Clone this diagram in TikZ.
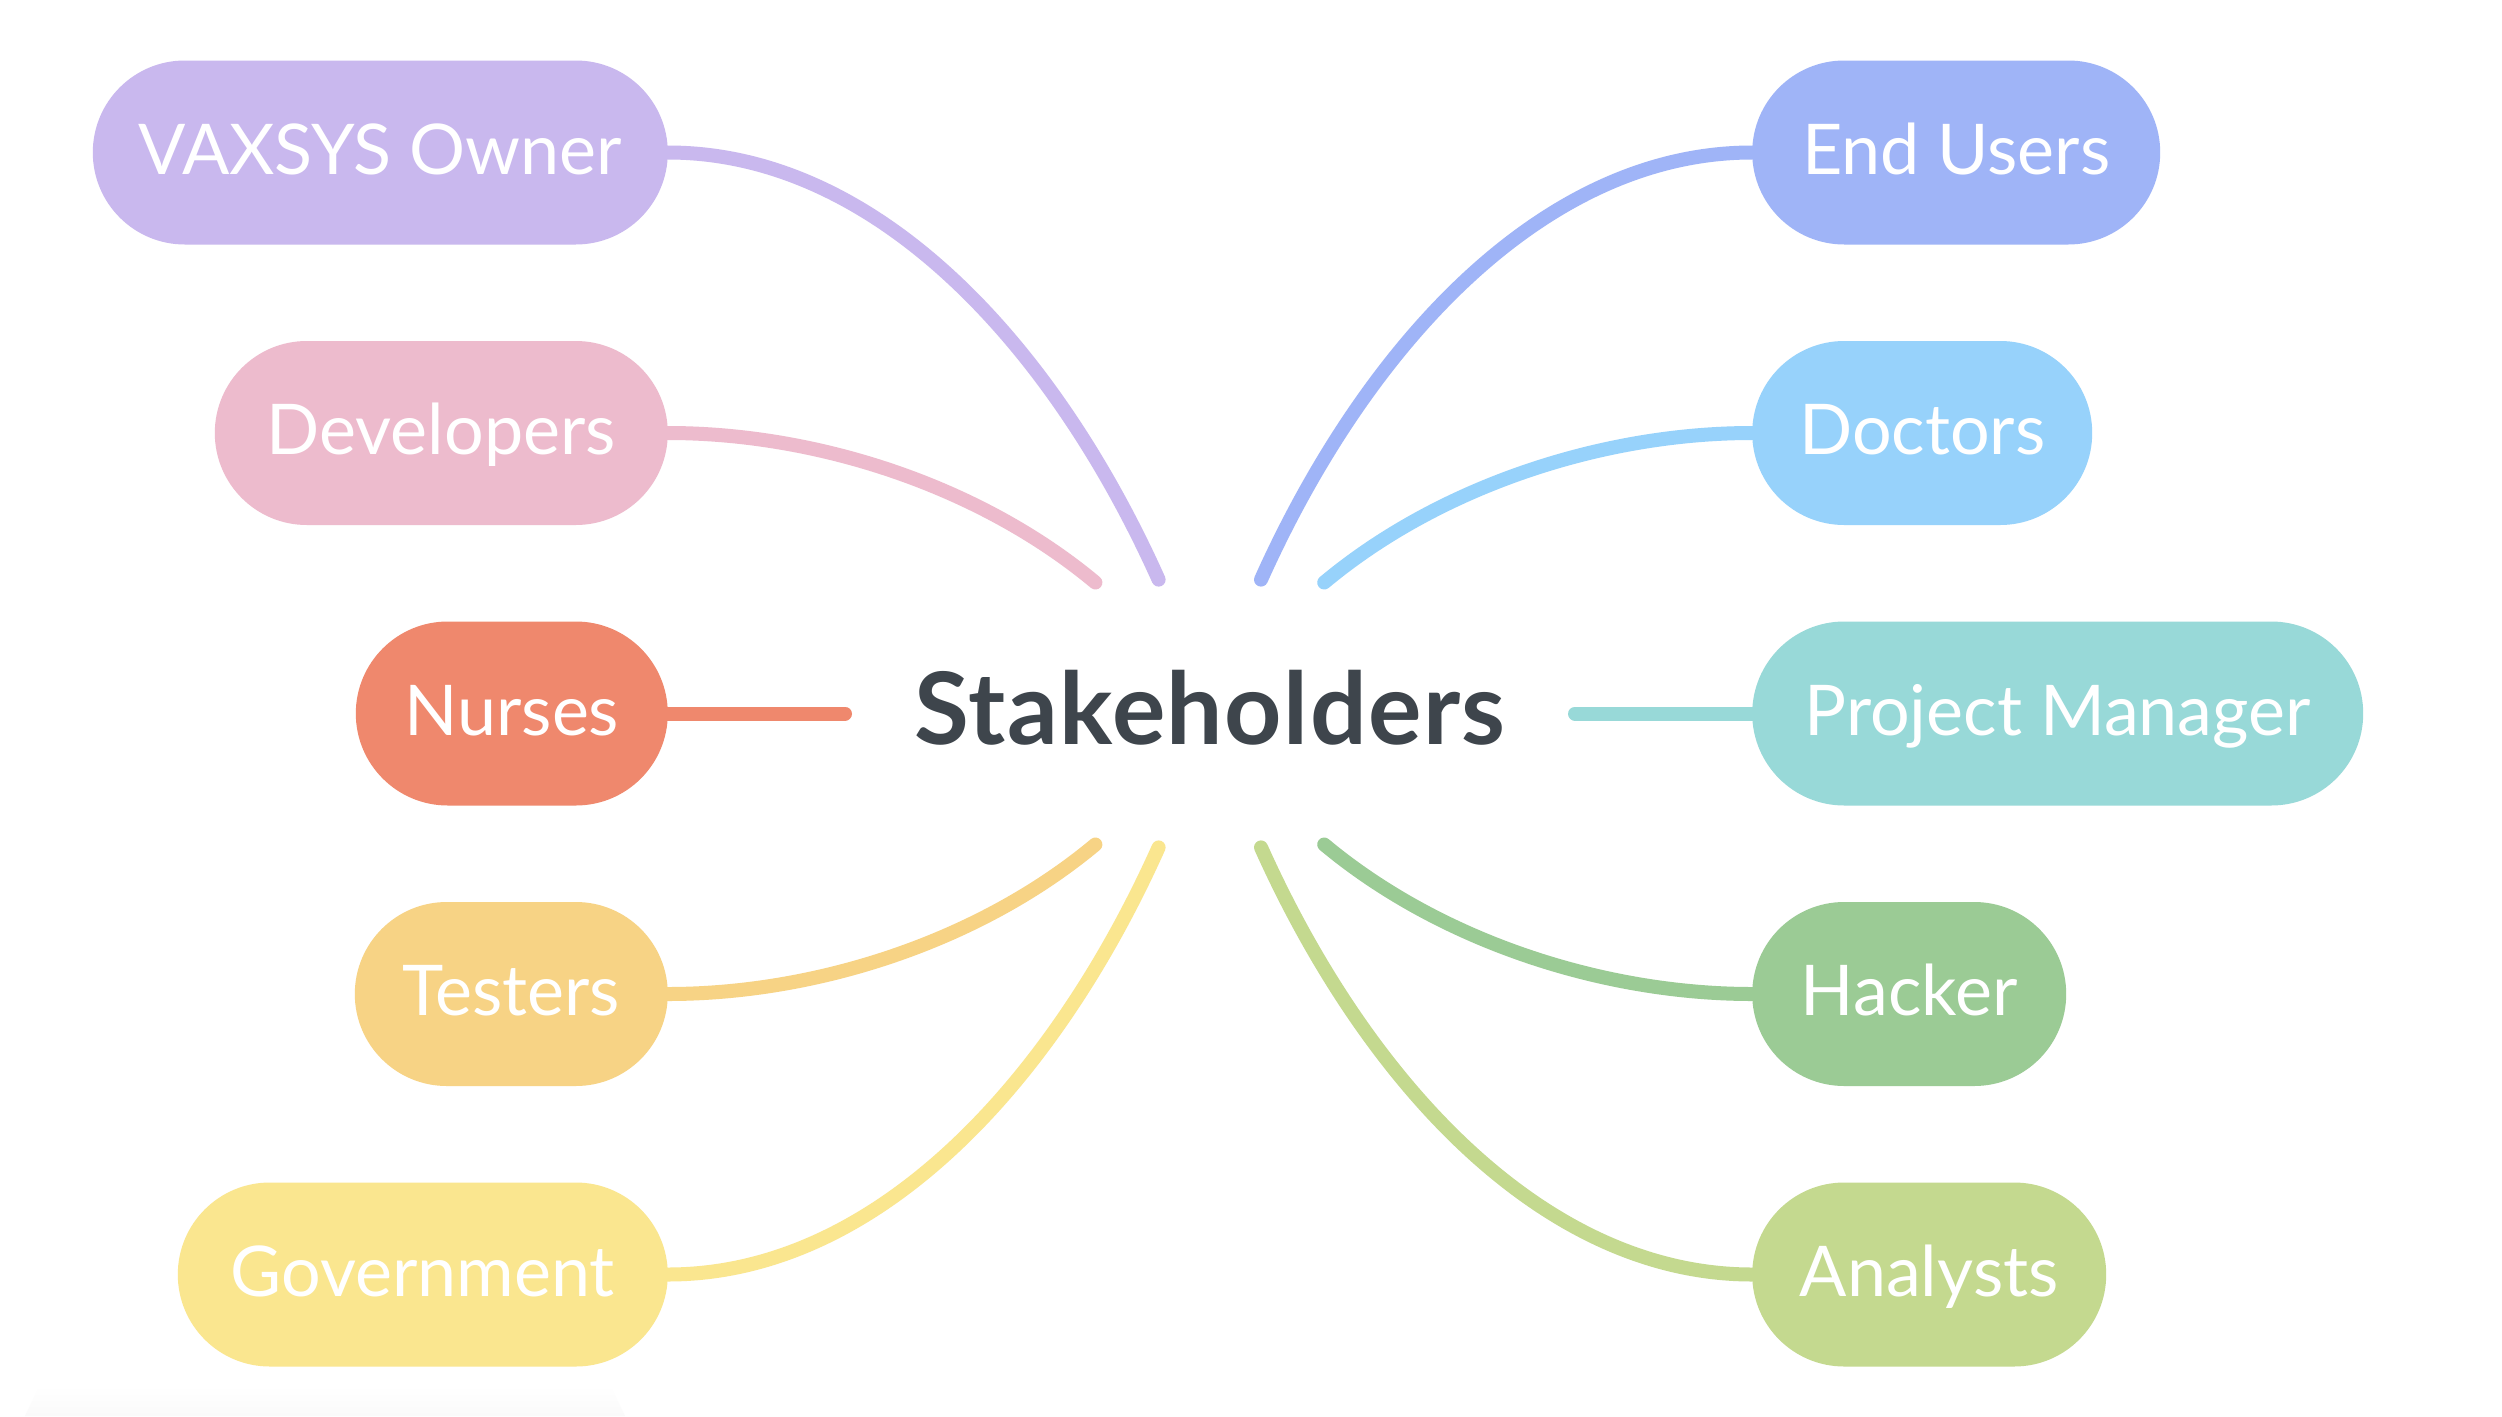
\documentclass[tikz,border=0pt]{standalone}
\usepackage{fontspec}
\setmainfont{Lato}
\usetikzlibrary{backgrounds}

\definecolor{cOwner}{HTML}{C9B8EE}
\definecolor{cDev}{HTML}{EDBBCD}
\definecolor{cNurse}{HTML}{EF886D}
\definecolor{cTest}{HTML}{F7D385}
\definecolor{cGov}{HTML}{FAE68F}
\definecolor{cUser}{HTML}{9FB4F7}
\definecolor{cDoc}{HTML}{97D2FB}
\definecolor{cPM}{HTML}{98D9D8}
\definecolor{cHack}{HTML}{9BCB95}
\definecolor{cAnal}{HTML}{C4D98F}
\definecolor{ink}{HTML}{3E454C}

\begin{document}
\begin{tikzpicture}[x=1pt,y=-1pt,
  topic/.style={fill=#1, rounded corners=92pt, minimum height=184pt,
    inner sep=0pt, text=white, font=\fontsize{70}{84}\selectfont,
    text height=43pt, text depth=0pt},
  link/.style={draw=#1, line width=14pt, line cap=round},
  hub/.style={text=ink, font=\fontsize{100}{120}\selectfont\bfseries\addfontfeatures{LetterSpace=1.5},
    inner sep=0pt, text height=71pt, text depth=0pt}]

\useasboundingbox (0,0) rectangle (2502,1416);

% central topic
\node[hub] (hub) at (1210,708.5) {Stakeholders};

% left branch
\node[topic=cOwner, minimum width=575pt, anchor=east] (owner) at (668,152.5) {VAXSYS Owner};
\node[topic=cDev,   minimum width=453pt, anchor=east] (dev)   at (668,433)   {Developers};
\node[topic=cNurse, minimum width=312pt, anchor=east] (nurse) at (668,713.5) {Nurses};
\node[topic=cTest,  minimum width=313pt, anchor=east] (test)  at (668,994)   {Testers};
\node[topic=cGov,   minimum width=490pt, anchor=east] (gov)   at (668,1274.5){Government};

% right branch
\node[topic=cUser,  minimum width=408pt, anchor=west] (user)  at (1752,152.5) {End Users};
\node[topic=cDoc,   minimum width=340pt, anchor=west] (doc)   at (1752,433)   {Doctors};
\node[topic=cPM,    minimum width=611pt, anchor=west] (pm)    at (1752,713.5) {Project Manager};
\node[topic=cHack,  minimum width=314pt, anchor=west] (hack)  at (1752,994)   {Hacker};
\node[topic=cAnal,  minimum width=354pt, anchor=west] (anal)  at (1752,1274.5){Analysts};

% free ends of the branches around the hub
\coordinate (ownerEnd) at (1158.6,579.6);
\coordinate (devEnd)   at (1095.4,582.5);
\coordinate (nurseEnd) at (845,713.5);
\coordinate (testEnd)  at (1095.4,844.5);
\coordinate (govEnd)   at (1158.6,847.4);
\coordinate (userEnd)  at (1261,579.6);
\coordinate (docEnd)   at (1324.2,582.5);
\coordinate (pmEnd)    at (1575,713.5);
\coordinate (hackEnd)  at (1324.2,844.5);
\coordinate (analEnd)  at (1261,847.4);

\begin{pgfonlayer}{background}
  \fill[white] (0,0) rectangle (2502,1416);
  \shade[top color=white, bottom color=black!2] (40,1385) -- (610,1385) -- (625,1416) -- (25,1416) -- cycle;

  \draw[link=cOwner] (owner.east) .. controls +(210,0) and +(-104,-232) .. (ownerEnd);
  \draw[link=cDev]   (dev.east)   .. controls +(150,0) and +(-115,-96)  .. (devEnd);
  \draw[link=cNurse] (nurse.east) -- (nurseEnd);
  \draw[link=cTest]  (test.east)  .. controls +(150,0) and +(-115,96)   .. (testEnd);
  \draw[link=cGov]   (gov.east)   .. controls +(210,0) and +(-104,232)  .. (govEnd);

  \draw[link=cUser]  (user.west)  .. controls +(-210,0) and +(104,-232) .. (userEnd);
  \draw[link=cDoc]   (doc.west)   .. controls +(-150,0) and +(115,-96)  .. (docEnd);
  \draw[link=cPM]    (pm.west)    -- (pmEnd);
  \draw[link=cHack]  (hack.west)  .. controls +(-150,0) and +(115,96)   .. (hackEnd);
  \draw[link=cAnal]  (anal.west)  .. controls +(-210,0) and +(104,232)  .. (analEnd);
\end{pgfonlayer}
\end{tikzpicture}
\end{document}
